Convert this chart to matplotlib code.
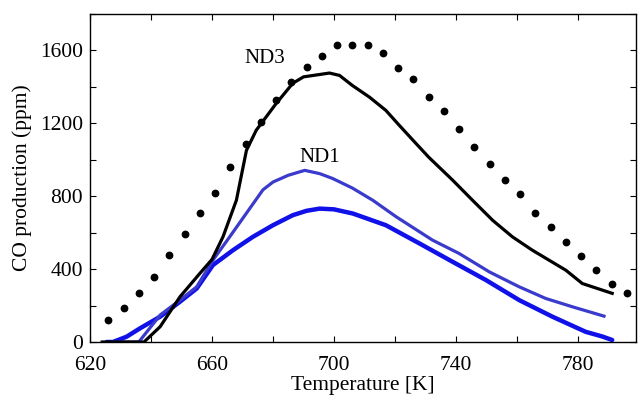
import matplotlib
matplotlib.use('Agg')
import matplotlib.pyplot as plt
from matplotlib.ticker import FixedLocator, MultipleLocator

plt.rcParams['font.family'] = ['Liberation Serif', 'DejaVu Serif']

# ND3 measured (dots)
nd3_dots_T = [626, 631, 636, 641, 646, 651, 656, 661, 666, 671, 676, 681,
              686, 691, 696, 701, 706, 711, 716, 721, 726, 731, 736, 741,
              746, 751, 756, 761, 766, 771, 776, 781, 786, 791, 796]
nd3_dots_ppm = [120, 188, 267, 358, 480, 590, 708, 820, 959, 1087, 1205, 1328,
                1428, 1507, 1567, 1629, 1629, 1629, 1587, 1505, 1446, 1346, 1267, 1167,
                1068, 977, 888, 811, 708, 630, 548, 470, 396, 318, 267]

# ND3 model (black line)
nd3_T = [624, 637.7, 643, 649.5, 656, 660, 663.6, 668, 671.3, 674.5, 681,
         686.5, 690, 695.3, 698.5, 701.8, 706, 711.6, 717, 721.4, 726.9, 731,
         738.9, 745.4, 752, 758.5, 765, 776, 781.4, 791.2]
nd3_ppm = [0, 0, 84, 248, 376, 453, 577, 778, 1052, 1162, 1308,
           1420, 1455, 1468, 1476, 1463, 1408, 1344, 1271, 1189, 1089, 1015,
           888, 778, 668, 577, 504, 394, 321, 267]

# ND1 model (blue line)
nd1_T = [627.5, 636, 643, 649.5, 655, 660.3, 665.8, 676.7, 680, 685, 690.4,
         695.3, 699.6, 706, 712.7, 720.4, 732.3, 741, 750.9, 760.7, 769.4,
         778.2, 788.5]
nd1_ppm = [0, 0, 148, 230, 303, 449, 577, 835, 878, 915, 942,
           924, 897, 845, 778, 687, 559, 486, 385, 303, 239, 193, 142]

# ND1 measured (thick bright blue)
nd1_meas_T = [625.5, 627.5, 632, 636.4, 643, 649.5, 655, 660.3, 666.9, 673.4, 680,
              686.5, 691, 695.3, 700, 706.2, 717, 728, 738.9, 749.8, 760.7,
              771.6, 782.5, 788, 791.2]
nd1_meas_ppm = [0, 0, 29, 75, 139, 221, 294, 422, 504, 577, 641,
                696, 720, 732, 728, 705, 641, 541, 440, 340, 230,
                139, 56, 30, 11]

xticks = [620, 660, 700, 740, 780]
yticks = [0, 400, 800, 1200, 1600]

fig = plt.figure(figsize=(6.39, 4.01), dpi=100)
ax = fig.add_axes([0.1408, 0.1471, 0.8545, 0.818])

ax.plot(nd1_meas_T, nd1_meas_ppm, color='#1010e8', lw=3.2, solid_capstyle='round')
ax.plot(nd1_T, nd1_ppm, color='#3a3acc', lw=2.3)
ax.plot(nd3_T, nd3_ppm, color='black', lw=2.3)
ax.plot(nd3_dots_T, nd3_dots_ppm, linestyle='none', marker='o', ms=4.6,
        color='black')

ax.text(677.3, 1556, 'ND3', ha='center', va='center', fontsize=15)
ax.text(695.3, 1014, 'ND1', ha='center', va='center', fontsize=15)

ax.set_xlim(620, 799)
ax.set_ylim(0, 1800)
ax.xaxis.set_major_locator(FixedLocator(xticks))
ax.xaxis.set_minor_locator(MultipleLocator(20))
ax.yaxis.set_major_locator(FixedLocator(yticks))
ax.yaxis.set_minor_locator(MultipleLocator(200))
ax.tick_params(which='both', direction='in', top=True, right=True,
               length=4, width=0.8, labelsize=15.5)
ax.tick_params(axis='y', pad=5)
ax.tick_params(axis='x', pad=10)
for s in ax.spines.values():
    s.set_linewidth(1.0)

ax.set_xlabel('Temperature [K]', fontsize=15.5, labelpad=1)
ax.set_ylabel('CO production (ppm)', fontsize=15.5, labelpad=6)

fig.savefig('out.png', dpi=100)
